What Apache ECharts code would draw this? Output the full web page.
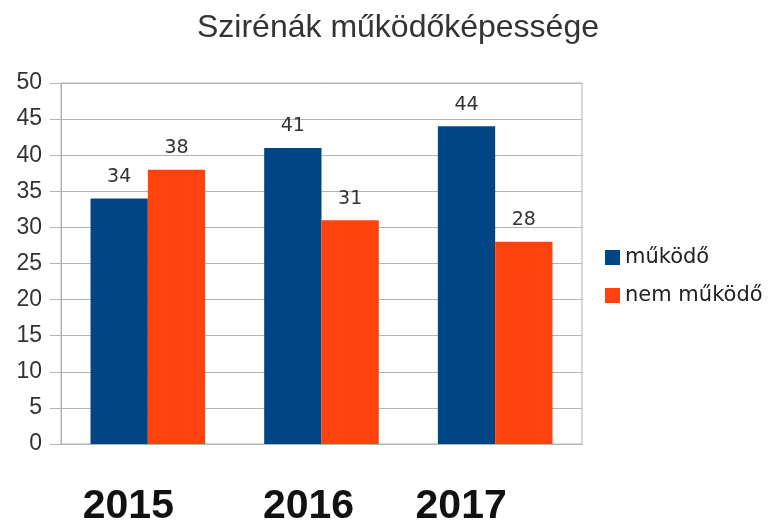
<!DOCTYPE html>
<html>
<head>
<meta charset="utf-8">
<script src="https://cdn.jsdelivr.net/npm/echarts@6/dist/echarts.min.js"></script>
<style>
  html, body { margin: 0; padding: 0; background: #fff; }
  #chart { width: 769px; height: 527px; }
</style>
</head>
<body>
<div id="chart"></div>
<script>
// adatok
var years = ['2015', '2016', '2017'];
var mukodo = [34, 41, 44];
var nemMukodo = [38, 31, 28];
var yTicks = [0, 5, 10, 15, 20, 25, 30, 35, 40, 45, 50];

var gridColor = '#b3b3b3';
// the year labels in the picture sit a bit left of the bar groups
var yearShift = { '2015': 39, '2016': 26, '2017': 68 };

var rich = {};
years.forEach(function (y, i) {
    rich['y' + i] = {
        fontFamily: 'Liberation Sans',
        fontWeight: 'bold',
        fontSize: 41,
        color: '#111',
        padding: [0, yearShift[y], 0, 0]
    };
});

var myChart = echarts.init(document.getElementById('chart'));
var option = {
    animation: false,
    title: {
        text: 'Szirénák működőképessége',
        left: 393,
        textAlign: 'center',
        top: 7,
        textStyle: {
            fontFamily: 'Liberation Sans',
            fontWeight: 'normal',
            fontSize: 32,
            color: '#333'
        }
    },
    legend: {
        orient: 'vertical',
        left: 605,
        top: 247,
        padding: 0,
        itemWidth: 15,
        itemHeight: 15,
        itemGap: 17,
        icon: 'rect',
        textStyle: {
            fontFamily: 'DejaVu Sans',
            fontSize: 21,
            color: '#222'
        },
        data: ['működő', 'nem működő']
    },
    grid: {
        left: 61,
        right: 187,
        top: 83,
        bottom: 82,
        show: true,
        borderColor: gridColor,
        borderWidth: 1
    },
    xAxis: {
        type: 'category',
        data: years,
        axisLine: { lineStyle: { color: gridColor } },
        axisTick: { show: false },
        axisLabel: {
            margin: 42,
            formatter: function (v, i) { return '{y' + i + '|' + v + '}'; },
            rich: rich
        }
    },
    yAxis: {
        type: 'value',
        min: yTicks[0],
        max: yTicks[yTicks.length - 1],
        interval: 5,
        axisLine: { show: true, lineStyle: { color: gridColor } },
        axisTick: { show: true, length: 11, lineStyle: { color: gridColor } },
        splitLine: { lineStyle: { color: gridColor } },
        axisLabel: {
            margin: 19,
            fontFamily: 'Liberation Sans',
            fontSize: 23,
            color: '#333'
        }
    },
    series: [
        {
            name: 'működő',
            type: 'bar',
            data: mukodo,
            barGap: 0,
            barCategoryGap: '34%',
            itemStyle: { color: '#004586' },
            label: {
                show: true,
                position: 'top',
                distance: 12,
                fontFamily: 'DejaVu Sans',
                fontSize: 19,
                color: '#333'
            }
        },
        {
            name: 'nem működő',
            type: 'bar',
            data: nemMukodo,
            barGap: 0,
            barCategoryGap: '34%',
            itemStyle: { color: '#ff420e' },
            label: {
                show: true,
                position: 'top',
                distance: 12,
                fontFamily: 'DejaVu Sans',
                fontSize: 19,
                color: '#333'
            }
        }
    ]
};
myChart.setOption(option);
</script>
</body>
</html>
